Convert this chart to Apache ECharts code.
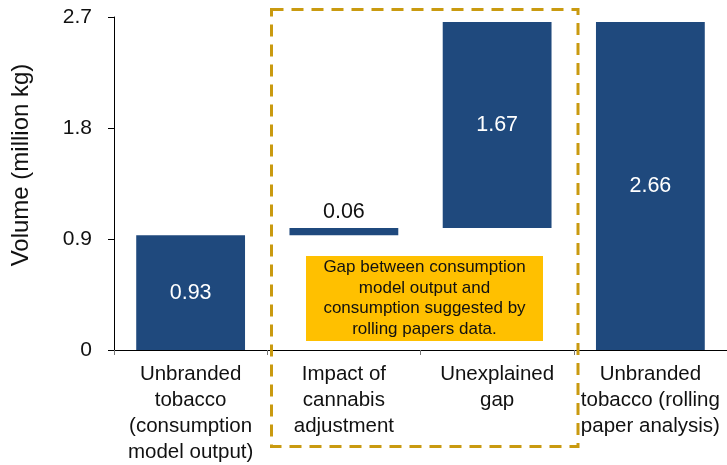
<!DOCTYPE html>
<html>
<head>
<meta charset="utf-8">
<style>
  html, body { margin: 0; padding: 0; background: #ffffff; }
  #chart { width: 727px; height: 465px; }
</style>
<script src="https://cdn.jsdelivr.net/npm/echarts@6/dist/echarts.min.js"></script>
</head>
<body>
<div id="chart"></div>
<script>
// Waterfall: from the consumption-model estimate to the rolling-paper estimate
const categories = [
  'Unbranded\ntobacco\n(consumption\nmodel output)',
  'Impact of\ncannabis\nadjustment',
  'Unexplained\ngap',
  'Unbranded\ntobacco (rolling\npaper analysis)'
];
const values = [0.93, 0.06, 1.67, 2.66];          // million kg
const barKinds = ['total', 'step', 'step', 'total'];  // totals start at zero, steps float on the running sum
const yTickValues = [0, 0.9, 1.8, 2.7];
const yTitle = 'Volume (million kg)';
const noteLines = [
  'Gap between consumption',
  'model output and',
  'consumption suggested by',
  'rolling papers data.'
];

// Invisible base that lifts each step bar to the running total
const bases = [];
let running = 0;
values.forEach((v, i) => {
  if (barKinds[i] === 'total') { bases.push(0); running = v; }
  else { bases.push(running); running += v; }
});

const FONT = "'Liberation Sans', Arial, sans-serif";
const NAVY = '#1f497d';
const GOLD = '#c99a10';

const chart = echarts.init(document.getElementById('chart'), null, { renderer: 'canvas' });

chart.setOption({
  animation: false,
  textStyle: { fontFamily: FONT },
  grid: { left: 114, right: -3, top: 17, bottom: 112 },
  xAxis: {
    type: 'category',
    data: categories,
    axisLine: { show: true, lineStyle: { color: '#000', width: 1 } },
    axisTick: { show: true, length: 5, lineStyle: { color: '#777' } },
    axisLabel: {
      interval: 0,
      margin: 11,
      color: '#111',
      fontSize: 20.5,
      lineHeight: 26,
      fontFamily: FONT
    }
  },
  yAxis: {
    type: 'value',
    min: yTickValues[0],
    max: yTickValues[yTickValues.length - 1],
    interval: yTickValues[1] - yTickValues[0],
    splitLine: { show: false },
    axisLine: { show: true, lineStyle: { color: '#000', width: 1 } },
    axisTick: { show: true, length: 6, lineStyle: { color: '#000' } },
    axisLabel: { margin: 22, fontSize: 21, color: '#111', fontFamily: FONT }
  },
  series: [
    {
      name: 'base',
      type: 'bar',
      stack: 'wf',
      barWidth: '71%',
      silent: true,
      itemStyle: { color: 'transparent' },
      data: bases
    },
    {
      name: 'volume',
      type: 'bar',
      stack: 'wf',
      barWidth: '71%',
      itemStyle: { color: NAVY },
      label: {
        show: true,
        position: 'inside',
        color: '#fff',
        fontSize: 21.5,
        fontFamily: FONT,
        formatter: p => values[p.dataIndex].toFixed(2)
      },
      data: values.map(v => v < 0.2
        ? { value: v, label: { position: 'top', distance: 5, color: '#111' } }
        : v)
    }
  ],
  graphic: [
    {
      // vertical axis title, sitting a little above the axis midpoint
      type: 'text',
      x: 21.5,
      y: 165,
      rotation: Math.PI / 2,
      style: {
        text: yTitle,
        fill: '#111',
        font: '24px ' + FONT,
        align: 'center',
        verticalAlign: 'middle'
      }
    },
    {
      type: 'rect',
      z: 10,
      shape: { x: 271.5, y: 9.5, width: 306.5, height: 437 },
      style: { fill: 'none', stroke: GOLD, lineWidth: 3, lineDash: [12, 8] }
    },
    {
      type: 'rect',
      z: 10,
      shape: { x: 306, y: 256, width: 237, height: 85 },
      style: { fill: '#ffc000' }
    },
    {
      type: 'text',
      z: 11,
      x: 424.5,
      y: 298.5,
      style: {
        text: noteLines.join('\n'),
        fill: '#111',
        font: '17px ' + FONT,
        lineHeight: 20.6,
        align: 'center',
        verticalAlign: 'middle'
      }
    }
  ]
});
</script>
</body>
</html>
